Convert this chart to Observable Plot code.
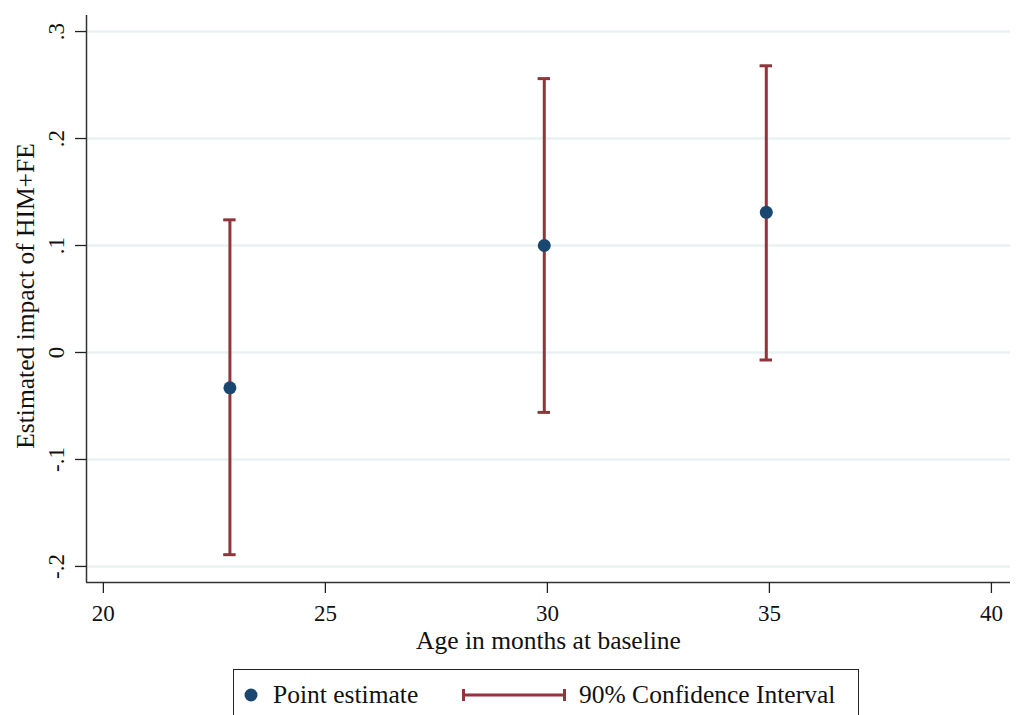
<!DOCTYPE html>
<html>
<head>
<meta charset="utf-8">
<script src="https://cdn.jsdelivr.net/npm/d3@7"></script>
<script src="https://cdn.jsdelivr.net/npm/@observablehq/plot@0.6"></script>
<style>
  html, body { margin: 0; padding: 0; background: #fff; }
  #wrap { position: relative; width: 1026px; height: 715px; overflow: hidden; font-family: "Liberation Serif", "DejaVu Serif", serif; }
  #legend { position: absolute; left: 233px; top: 669px; width: 626px; height: 60px; border: 1.5px solid #222; box-sizing: border-box; font-size: 25.5px; color: #111; }
  #legend .item { position: absolute; top: 10px; display: flex; align-items: center; }
</style>
</head>
<body>
<div id="wrap">
  <div id="chart"></div>
  <div id="legend">
    <div class="item" style="left:8px;">
      <svg width="18" height="18"><circle cx="9" cy="9" r="6.5" fill="#1a476f"></circle></svg>
      <span style="margin-left:13px;">Point estimate</span>
    </div>
    <div class="item" style="left:228px;">
      <svg width="104" height="18">
        <line x1="1.5" x2="102.5" y1="9" y2="9" stroke="#90353b" stroke-width="3"></line>
        <line x1="1.5" x2="1.5" y1="3" y2="15" stroke="#90353b" stroke-width="3"></line>
        <line x1="102.5" x2="102.5" y1="3" y2="15" stroke="#90353b" stroke-width="3"></line>
      </svg>
      <span style="margin-left:13px;">90% Confidence Interval</span>
    </div>
  </div>
</div>
<script>
// Data
const ages      = [22.85, 29.93, 34.93];
const estimates = [-0.033, 0.100, 0.131];
const ciLow     = [-0.189, -0.056, -0.007];
const ciHigh    = [0.124, 0.256, 0.268];
const xTicks = [20, 25, 30, 35, 40];
const yTicks = [-0.2, -0.1, 0, 0.1, 0.2, 0.3];
const xTitle = "Age in months at baseline";
const yTitle = "Estimated impact of HIM+FE";

const data = ages.map((a, i) => ({age: a, est: estimates[i], lo: ciLow[i], hi: ciHigh[i]}));

const xDomain = [19.62, 40.43];
const yDomain = [-0.215, 0.315];
const capHalf = 0.14;

const fmtY = d => d === 0 ? "0" : (d < 0 ? "-" : "") + d3.format(".1f")(Math.abs(d)).replace(/^0/, "");

const chart = Plot.plot({
  width: 1026,
  height: 660,
  marginLeft: 86,
  marginTop: 15,
  marginBottom: 78,
  marginRight: 16,
  style: {fontFamily: "'Liberation Serif', serif", fontSize: "23px", color: "#111", background: "#fff"},
  x: {domain: xDomain},
  y: {domain: yDomain},
  marks: [
    Plot.gridY(yTicks, {stroke: "#eaf1f3", strokeOpacity: 1, strokeWidth: 2.5}),
    Plot.ruleX([xDomain[0]], {stroke: "#333", strokeWidth: 1.5}),
    Plot.ruleY([yDomain[0]], {stroke: "#333", strokeWidth: 1.5}),
    Plot.axisX(xTicks, {tickSize: 11, tickPadding: 11, stroke: "#222", strokeWidth: 1.3, fontSize: 23, label: null}),
    Plot.axisY(yTicks, {tickSize: 11, tickPadding: 12, stroke: "#222", strokeWidth: 1.3, fontSize: 23,
      tickRotate: -90, tickFormat: fmtY, label: null}),
    Plot.text([xTitle], {frameAnchor: "bottom", dy: 58, textAnchor: "middle", lineAnchor: "middle", fontSize: 25.5, fill: "#111", text: d => d}),
    Plot.text([yTitle], {frameAnchor: "left", dx: -61, dy: -3, rotate: -90, textAnchor: "middle", lineAnchor: "middle", fontSize: 25.5, fill: "#111", text: d => d}),
    Plot.ruleX(data, {x: "age", y1: "lo", y2: "hi", stroke: "#90353b", strokeWidth: 3}),
    Plot.ruleY(data, {y: "lo", x1: d => d.age - capHalf, x2: d => d.age + capHalf, stroke: "#90353b", strokeWidth: 3}),
    Plot.ruleY(data, {y: "hi", x1: d => d.age - capHalf, x2: d => d.age + capHalf, stroke: "#90353b", strokeWidth: 3}),
    Plot.dot(data, {x: "age", y: "est", r: 6.5, fill: "#1a476f", stroke: "none"})
  ]
});
document.getElementById("chart").appendChild(chart);
</script>
</body>
</html>
